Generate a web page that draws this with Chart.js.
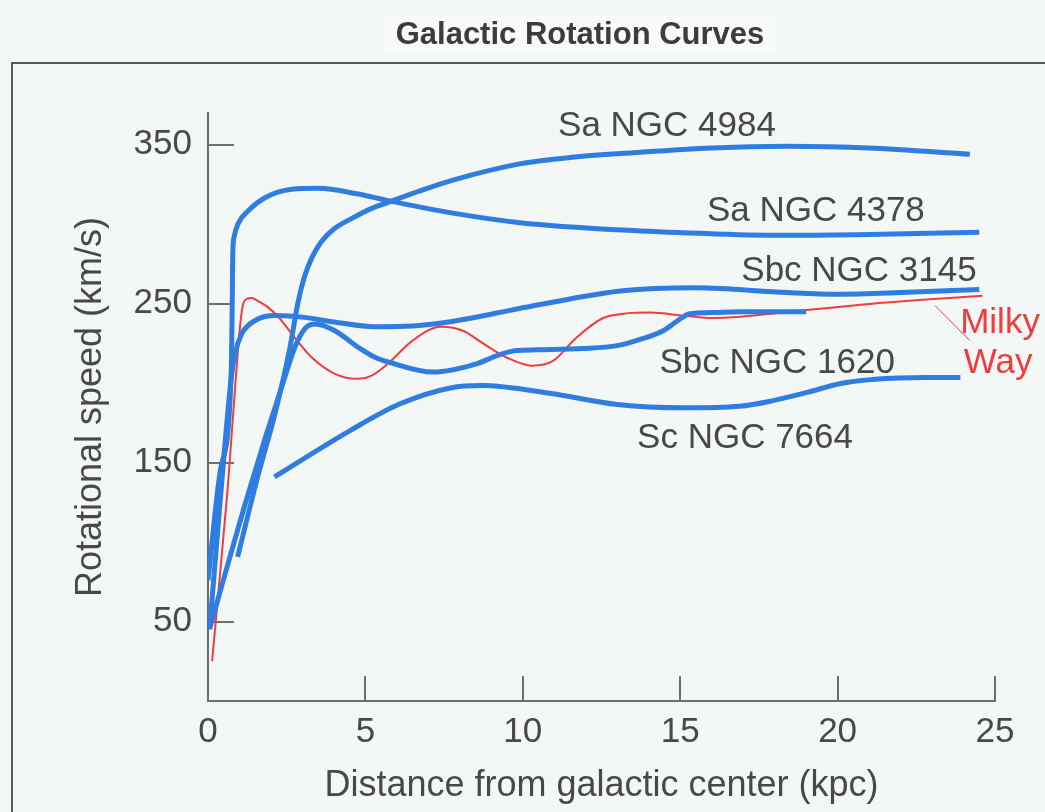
<!DOCTYPE html>
<html>
<head>
<meta charset="utf-8">
<title>Galactic Rotation Curves</title>
<script src="https://cdn.jsdelivr.net/npm/chart.js@4.4.1/dist/chart.umd.min.js"></script>
<style>
  html, body { margin: 0; padding: 0; background: #f3f7f6; }
  #wrap { width: 1045px; height: 812px; }
</style>
</head>
<body>
<div id="wrap"><canvas id="chart" width="1045" height="812"></canvas></div>
<script>
// distance (kpc) / rotational speed (km/s)
const n4984Kpc = [0.94, 1.55, 2.13, 2.6, 2.85, 3.05, 3.3, 3.6, 4.0, 4.6, 5.2, 5.69, 6.73, 7.78, 9.9, 11.5, 13.5, 16, 18.4, 21, 24.2];
const n4984Speed = [90.7, 139, 181, 222, 250, 266, 279, 289, 297, 304, 310, 313.5, 321, 327.8, 338, 342, 345, 348, 349, 348, 344];

const n4378Kpc = [0, 0.4, 0.74, 0.77, 0.785, 0.83, 0.96, 1.28, 1.81, 2.66, 3.5, 4.77, 5.69, 7.78, 9.91, 13.5, 16, 18.4, 21, 24.5];
const n4378Speed = [76, 146, 208, 250, 280, 292, 300.5, 308.5, 316.7, 322, 322.6, 319, 315, 307, 301, 296, 294, 293, 293.5, 295];

const n3145Kpc = [0.05, 0.4, 0.72, 0.86, 1.07, 1.49, 2.13, 3.08, 4, 5.3, 6.5, 7.8, 9.9, 11.5, 13.1, 15.5, 18.4, 20, 22, 24.5];
const n3145Speed = [45, 129, 200, 218.6, 231, 239.3, 242.5, 241.4, 238.5, 235.5, 236, 239, 247, 253, 258, 260, 257, 256, 257, 259];

const n1620Kpc = [0.06, 0.64, 1.18, 1.81, 2.34, 2.76, 3.08, 3.4, 4.03, 4.77, 5.3, 5.78, 7.15, 8.55, 9.18, 9.8, 10.45, 11.9, 13, 13.8, 14.46, 14.9, 15.3, 15.95, 16.9, 19.0];
const n1620Speed = [46, 86.8, 124, 165, 197.5, 222.6, 234.3, 237.2, 233, 222.6, 216.3, 213, 207, 212.3, 217.4, 220.5, 221, 221.8, 223.6, 228, 233, 239, 243.7, 244.4, 245, 245];

const n7664Kpc = [2.11, 4.5, 6.1, 7.7, 8.7, 10.9, 13, 15.1, 16.9, 17.95, 19, 20.1, 21.2, 22.8, 23.9];
const n7664Speed = [141, 170, 187, 197, 198.5, 193.5, 186.6, 184.5, 185.5, 189, 194, 199.8, 202.5, 203.5, 203.5];

const milkyKpc = [0.13, 0.6, 1.02, 1.1, 1.25, 1.39, 1.6, 1.91, 2.29, 2.66, 3.29, 4.03, 4.77, 5.2, 5.7, 6.5, 7.4, 8.1, 8.7, 9.5, 10.3, 10.96, 11.7, 12.55, 13.2, 14.04, 15.1, 15.9, 17, 17.9, 21.1, 24.6];
const milkySpeed = [25, 128, 236, 248.5, 253.2, 253.6, 251.5, 247.7, 240.5, 231, 216.3, 205.9, 202.7, 204.8, 212, 226.8, 235.5, 233, 225.5, 216, 211, 214, 228.6, 241, 243.7, 244.4, 242.5, 241, 242, 243.7, 250, 255];

const xTicks = [0, 5, 10, 15, 20, 25];
const yTicks = [50, 150, 250, 350];

const BLUE = '#2f7de1';
const RED = '#f03c3c';
const INK = '#484848';
const AXIS = '#6e6e6e';
const FONT = "'Liberation Sans', Arial, Helvetica, sans-serif";

// curve names placed next to the curves (data coords, text baseline)
const curveLabels = [
  { text: 'Sa NGC 4984', x: 14.58, y: 355.8, color: INK },
  { text: 'Sa NGC 4378', x: 19.31, y: 302.1, color: INK },
  { text: 'Sbc NGC 3145', x: 20.68, y: 264.4, color: INK },
  { text: 'Sbc NGC 1620', x: 18.08, y: 206.7, color: INK },
  { text: 'Sc NGC 7664', x: 17.06, y: 159, color: INK },
  { text: 'Milky', x: 25.16, y: 231.8, color: RED },
  { text: 'Way', x: 25.1, y: 206.1, color: RED }
];

function pts(xs, ys) {
  return xs.map((x, i) => ({ x: x, y: ys[i] }));
}

function curve(label, xs, ys, color, width) {
  return {
    label: label,
    data: pts(xs, ys),
    borderColor: color,
    borderWidth: width,
    pointRadius: 0,
    fill: false,
    cubicInterpolationMode: 'monotone'
  };
}

const pagePlugin = {
  id: 'page',
  beforeDraw(chart) {
    const ctx = chart.ctx;
    ctx.save();
    ctx.fillStyle = '#f3f7f6';
    ctx.fillRect(0, 0, chart.width, chart.height);
    // box around the title
    ctx.fillStyle = '#f8fbfa';
    ctx.fillRect(383, 15, 394, 38);
    ctx.fillStyle = '#3c3c3c';
    ctx.font = "bold 31px " + FONT;
    ctx.textAlign = 'center';
    ctx.textBaseline = 'middle';
    ctx.fillText('Galactic Rotation Curves', 580, 35);
    // frame
    ctx.strokeStyle = '#5a5a5a';
    ctx.lineWidth = 2;
    ctx.strokeRect(12, 63, chart.width + 20, chart.height + 20);
    ctx.restore();
  },
  beforeDatasetsDraw(chart) {
    // tick marks pointing into the plot
    const { ctx, chartArea, scales } = chart;
    ctx.save();
    ctx.strokeStyle = AXIS;
    ctx.lineWidth = 2;
    ctx.beginPath();
    xTicks.forEach(v => {
      if (v === 0) return;
      const px = Math.round(scales.x.getPixelForValue(v));
      ctx.moveTo(px, chartArea.bottom);
      ctx.lineTo(px, chartArea.bottom - 25);
    });
    yTicks.forEach(v => {
      const py = Math.round(scales.y.getPixelForValue(v));
      ctx.moveTo(chartArea.left, py);
      ctx.lineTo(chartArea.left + 26, py);
    });
    ctx.stroke();
    ctx.restore();
  },
  afterDatasetsDraw(chart) {
    const { ctx, scales } = chart;
    ctx.save();
    ctx.font = "35px " + FONT;
    ctx.textAlign = 'center';
    ctx.textBaseline = 'alphabetic';
    curveLabels.forEach(l => {
      ctx.fillStyle = l.color;
      ctx.fillText(l.text, scales.x.getPixelForValue(l.x), scales.y.getPixelForValue(l.y));
    });
    // leader from the Milky Way curve to its label
    ctx.strokeStyle = RED;
    ctx.lineWidth = 1;
    ctx.beginPath();
    ctx.moveTo(scales.x.getPixelForValue(23.1), scales.y.getPixelForValue(248.7));
    ctx.lineTo(scales.x.getPixelForValue(24.2), scales.y.getPixelForValue(226.8));
    ctx.stroke();
    ctx.restore();
  }
};

new Chart(document.getElementById('chart').getContext('2d'), {
  type: 'line',
  data: {
    datasets: [
      curve('Sa NGC 4984', n4984Kpc, n4984Speed, BLUE, 5),
      curve('Sa NGC 4378', n4378Kpc, n4378Speed, BLUE, 5),
      curve('Sbc NGC 3145', n3145Kpc, n3145Speed, BLUE, 5),
      curve('Sbc NGC 1620', n1620Kpc, n1620Speed, BLUE, 5),
      curve('Sc NGC 7664', n7664Kpc, n7664Speed, BLUE, 5),
      curve('Milky Way', milkyKpc, milkySpeed, RED, 2)
    ]
  },
  options: {
    responsive: false,
    devicePixelRatio: 1,
    animation: false,
    layout: { padding: { top: 113, right: 50, left: 0, bottom: 0 } },
    plugins: {
      legend: { display: false },
      tooltip: { enabled: false },
      title: { display: false }
    },
    scales: {
      x: {
        type: 'linear',
        min: 0,
        max: 25,
        afterBuildTicks: s => { s.ticks = xTicks.map(v => ({ value: v })); },
        afterFit: s => { s.height = 111; },
        grid: { drawOnChartArea: false, drawTicks: false },
        border: { color: AXIS, width: 2 },
        ticks: {
          color: INK,
          font: { family: FONT, size: 35 },
          padding: 10,
          maxRotation: 0,
          autoSkip: false
        },
        title: {
          display: true,
          text: 'Distance from galactic center (kpc)',
          color: INK,
          font: { family: FONT, size: 36 },
          padding: { top: 0, bottom: 4 }
        }
      },
      y: {
        type: 'linear',
        min: 0,
        max: 370,
        afterBuildTicks: s => { s.ticks = yTicks.map(v => ({ value: v })); },
        afterFit: s => { s.width = 208; },
        grid: { drawOnChartArea: false, drawTicks: false },
        border: { color: AXIS, width: 2 },
        ticks: {
          color: INK,
          font: { family: FONT, size: 35 },
          padding: 16,
          autoSkip: false
        },
        title: {
          display: true,
          text: 'Rotational speed (km/s)',
          color: INK,
          font: { family: FONT, size: 36 },
          padding: { top: 69, bottom: 0 }
        }
      }
    }
  },
  plugins: [pagePlugin]
});
</script>
</body>
</html>
